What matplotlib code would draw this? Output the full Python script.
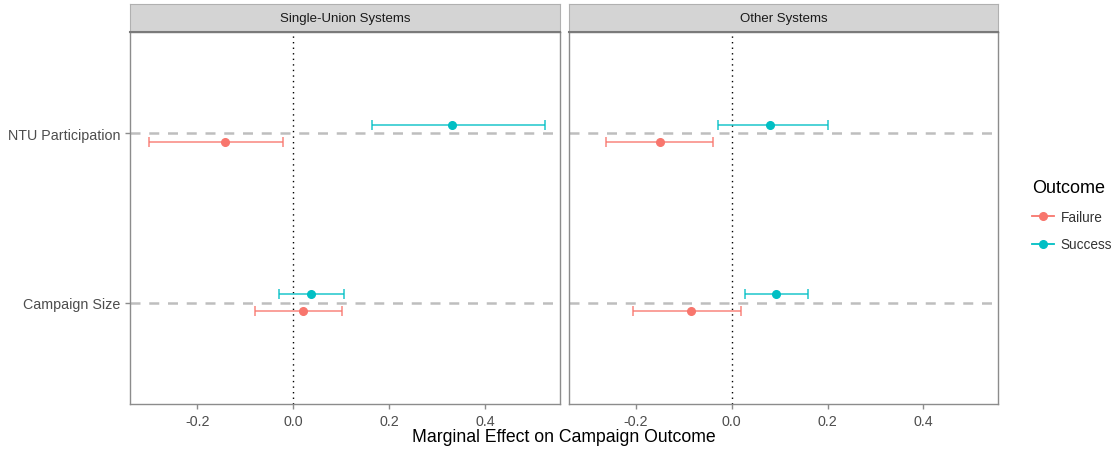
import numpy as np
import matplotlib.pyplot as plt
from matplotlib.lines import Line2D

plt.rcParams['font.family'] = ['Liberation Sans', 'DejaVu Sans']

panels = ['Single-Union Systems', 'Other Systems']
terms = ['Campaign Size', 'NTU Participation']
outcomes = ['Failure', 'Success']
colors = {'Failure': '#F8766D', 'Success': '#00BFC4'}

# estimate, lower, upper for [Campaign Size, NTU Participation]
single_failure_est = [0.021, -0.143]
single_failure_lo = [-0.079, -0.301]
single_failure_hi = [0.101, -0.021]
single_success_est = [0.037, 0.331]
single_success_lo = [-0.030, 0.165]
single_success_hi = [0.106, 0.524]

other_failure_est = [-0.085, -0.150]
other_failure_lo = [-0.207, -0.263]
other_failure_hi = [0.019, -0.039]
other_success_est = [0.093, 0.079]
other_success_lo = [0.028, -0.028]
other_success_hi = [0.160, 0.201]

data = {
    'Single-Union Systems': {
        'Failure': (single_failure_est, single_failure_lo, single_failure_hi),
        'Success': (single_success_est, single_success_lo, single_success_hi),
    },
    'Other Systems': {
        'Failure': (other_failure_est, other_failure_lo, other_failure_hi),
        'Success': (other_success_est, other_success_lo, other_success_hi),
    },
}

W, H = 1116, 452
fig = plt.figure(figsize=(W / 100, H / 100), dpi=100)

panel_x = [(130, 560), (569, 998)]
top, bottom, strip_top = 33, 405, 5
dodge = {'Failure': -0.05, 'Success': 0.05}
xticks = [-0.2, 0.0, 0.2, 0.4]

for i, name in enumerate(panels):
    x0, x1 = panel_x[i]
    ax = fig.add_axes([x0 / W, 1 - bottom / H, (x1 - x0) / W, (bottom - top) / H])
    ax.set_xlim(-0.34, 0.556)
    ax.set_ylim(0.4, 2.6)

    ypos = np.arange(1, len(terms) + 1)
    for y in ypos:
        ax.axhline(y, color='#BEBEBE', lw=1.8, ls=(0, (4, 3.5)), zorder=1)
    ax.axvline(0, color='black', lw=1.0, ls=(0, (1, 3)), zorder=1)

    for out in outcomes:
        est, lo, hi = data[name][out]
        yy = ypos + dodge[out]
        est = np.array(est)
        err = [est - np.array(lo), np.array(hi) - est]
        ax.errorbar(est, yy, xerr=err, fmt='none', ecolor=colors[out],
                    elinewidth=1.3, capsize=3.5, capthick=1.3, alpha=0.75, zorder=2)
        ax.plot(est, yy, 'o', color=colors[out], ms=5.5, zorder=3)

    for s in ax.spines.values():
        s.set_color('#8C8C8C')
        s.set_linewidth(1.0)
    ax.set_xticks(xticks)
    ax.set_xticklabels([f'{t:.1f}' for t in xticks])
    ax.tick_params(axis='both', colors='#8C8C8C', labelcolor='#4D4D4D',
                   labelsize=10.3, length=3.5, width=1.0)
    ax.set_yticks(ypos)
    if i == 0:
        ax.set_yticklabels(terms)
    else:
        ax.set_yticklabels([])
        ax.tick_params(axis='y', length=0)

    # facet strip
    sax = fig.add_axes([x0 / W, 1 - top / H, (x1 - x0) / W, (top - strip_top) / H])
    sax.set_facecolor('#D4D4D4')
    sax.set_xticks([])
    sax.set_yticks([])
    for s in sax.spines.values():
        s.set_color('#B0B0B0')
        s.set_linewidth(0.8)
    sax.spines['bottom'].set_color('#7A7A7A')
    sax.spines['bottom'].set_linewidth(1.5)
    sax.text(0.5, 0.5, name, ha='center', va='center', fontsize=9.5,
             color='#1A1A1A', transform=sax.transAxes)

fig.text(564 / W, 1 - 438 / H, 'Marginal Effect on Campaign Outcome',
         ha='center', va='center', fontsize=12.7, color='black')

handles = [Line2D([0], [0], color=colors[o], lw=1.3, marker='o', ms=5.5)
           for o in outcomes]
leg = fig.legend(handles, outcomes, title='Outcome', loc='upper left',
                 bbox_to_anchor=(1020 / W, 1 - 168 / H), frameon=False,
                 fontsize=9.8, title_fontsize=13, handlelength=1.6,
                 labelspacing=1.0, handletextpad=0.5)
leg._legend_box.align = 'left'
for t in leg.get_texts():
    t.set_color('#333333')

fig.savefig('out.png', dpi=100)
